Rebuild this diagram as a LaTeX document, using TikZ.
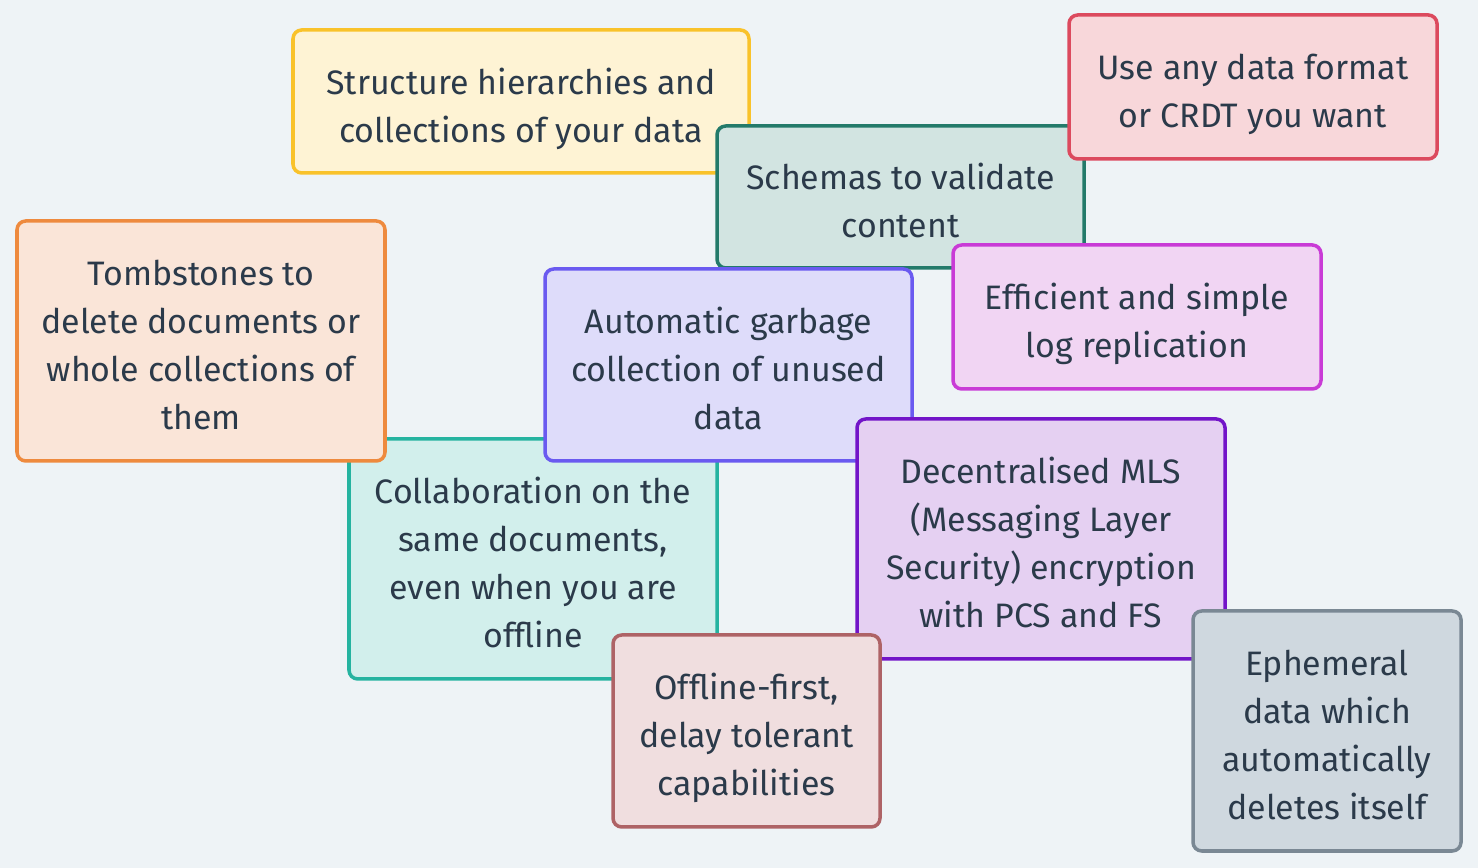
\documentclass[tikz,border=0pt]{standalone}
\usepackage{fontspec}
\setmainfont{Fira Sans}

\definecolor{bg}{HTML}{EEF3F6}
\definecolor{ink}{HTML}{2B3A4A}

\tikzset{
	card/.style = {draw, line width = 2pt, rounded corners = 5pt, align = center,
		text = ink, inner sep = 0pt, font = \fontsize{19.3}{27.3}\selectfont},
	lower/.style = {text depth = 0pt, yshift = -0.07 cm}
}

\begin{document}
\begin{tikzpicture}[x = 1 cm, y = 1 cm]

	% Background
	
	\fill [bg] (0, 0) rectangle (29.56, 17.36);
	\useasboundingbox (0, 0) rectangle (29.56, 17.36);
	
	% Top row
	
	\node [card, draw = {rgb,255:red,249;green,194;blue,42}, fill = {rgb,255:red,254;green,243;blue,212},
		minimum width = 9.12 cm, minimum height = 2.86 cm] (hierarchies) at (10.42, 15.33) {};
	\node [card, draw = none, fill = none, lower] (hierarchiestext) at (hierarchies)
		{Structure hierarchies and\\collections of your data};
	
	\node [card, draw = {rgb,255:red,35;green,122;blue,106}, fill = {rgb,255:red,210;green,228;blue,225},
		minimum width = 7.34 cm, minimum height = 2.84 cm] (schemas) at (18.01, 13.42) {};
	\node [card, draw = none, fill = none, lower] (schemastext) at (schemas)
		{Schemas to validate\\content};
	
	\node [card, draw = {rgb,255:red,220;green,74;blue,94}, fill = {rgb,255:red,248;green,215;blue,218},
		minimum width = 7.36 cm, minimum height = 2.88 cm] (formats) at (25.06, 15.62) {};
	\node [card, draw = none, fill = none, lower] (formatstext) at (formats)
		{Use any data format\\or CRDT you want};
	
	\node [card, draw = {rgb,255:red,201;green,59;blue,214}, fill = {rgb,255:red,241;green,213;blue,243},
		minimum width = 7.36 cm, minimum height = 2.88 cm] (replication) at (22.74, 11.02) {};
	\node [card, draw = none, fill = none, lower] (replicationtext) at (replication)
		{Efficient and simple\\log replication};
	
	% Middle
	
	\node [card, draw = {rgb,255:red,37;green,179;blue,160}, fill = {rgb,255:red,210;green,239;blue,236},
		minimum width = 7.36 cm, minimum height = 4.8 cm] (collaboration) at (10.66, 6.18) {};
	\node [card, draw = none, fill = none, lower] (collaborationtext) at (collaboration)
		{Collaboration on the\\same documents,\\even when you are\\offline};
	
	\node [card, draw = {rgb,255:red,238;green,138;blue,62}, fill = {rgb,255:red,250;green,229;blue,216},
		minimum width = 7.36 cm, minimum height = 4.8 cm] (tombstones) at (4.02, 10.54) {};
	\node [card, draw = none, fill = none, lower] (tombstonestext) at (tombstones)
		{Tombstones to\\delete documents or\\whole collections of\\them};
	
	\node [card, draw = {rgb,255:red,106;green,90;blue,240}, fill = {rgb,255:red,222;green,220;blue,250},
		minimum width = 7.34 cm, minimum height = 3.84 cm] (garbage) at (14.57, 10.06) {};
	\node [card, draw = none, fill = none, lower] (garbagetext) at (garbage)
		{Automatic garbage\\collection of unused\\data};
	
	\node [card, draw = {rgb,255:red,114;green,20;blue,200}, fill = {rgb,255:red,229;green,208;blue,242},
		minimum width = 7.36 cm, minimum height = 4.8 cm] (encryption) at (20.82, 6.58) {};
	\node [card, draw = none, fill = none, lower] (encryptiontext) at (encryption)
		{Decentralised MLS\\(Messaging Layer\\Security) encryption\\with PCS and FS};
	
	% Bottom row
	
	\node [card, draw = {rgb,255:red,174;green,99;blue,102}, fill = {rgb,255:red,240;green,222;blue,223},
		minimum width = 5.34 cm, minimum height = 3.84 cm] (offline) at (14.93, 2.74) {};
	\node [card, draw = none, fill = none, lower] (offlinetext) at (offline)
		{Offline-first,\\delay tolerant\\capabilities};
	
	\node [card, draw = {rgb,255:red,122;green,136;blue,148}, fill = {rgb,255:red,207;green,216;blue,223},
		minimum width = 5.36 cm, minimum height = 4.8 cm] (ephemeral) at (26.54, 2.74) {};
	\node [card, draw = none, fill = none, lower] (ephemeraltext) at (ephemeral)
		{Ephemeral\\data which\\automatically\\deletes itself};

\end{tikzpicture}
\end{document}
